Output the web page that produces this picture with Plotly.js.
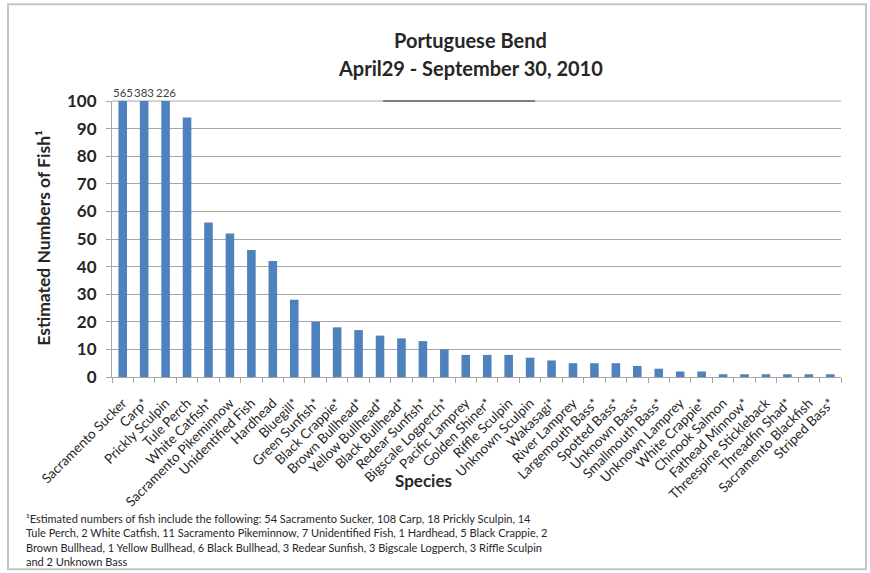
<!DOCTYPE html>
<html>
<head>
<meta charset="utf-8">
<script src="https://cdn.plot.ly/plotly-3.0.1.min.js"></script>
<style>
  html, body { margin: 0; padding: 0; background: #ffffff; }
  #chart { width: 870px; height: 573px; }
</style>
</head>
<body>
<div id="chart"></div>
<script>
const species = [
  "Sacramento Sucker", "Carp*", "Prickly Sculpin", "Tule Perch", "White Catfish*",
  "Sacramento Pikeminnow", "Unidentified Fish", "Hardhead", "Bluegill*", "Green Sunfish*",
  "Black Crappie*", "Brown Bullhead*", "Yellow Bullhead*", "Black Bullhead*", "Redear Sunfish*",
  "Bigscale Logperch*", "Pacific Lamprey", "Golden Shiner*", "Riffle Sculpin", "Unknown Sculpin",
  "Wakasagi*", "River Lamprey", "Largemouth Bass*", "Spotted Bass*", "Unknown Bass*",
  "Smallmouth Bass*", "Unknown Lamprey", "White Crappie*", "Chinook Salmon", "Fathead Minnow*",
  "Threespine Stickleback", "Threadfin Shad*", "Sacramento Blackfish", "Striped Bass*"
];
const counts = [
  565, 383, 226, 94, 56,
  52, 46, 42, 28, 20,
  18, 17, 15, 14, 13,
  10, 8, 8, 8, 7,
  6, 5, 5, 5, 4,
  3, 2, 2, 1, 1,
  1, 1, 1, 1
];
const yMax = 100;
const titleLine1 = "Portuguese Bend";
const titleLine2 = "April29 - September 30, 2010";
const xTitle = "Species";
const yTitle = "Estimated Numbers of Fish¹";
const footnoteLines = [
  "¹Estimated numbers of fish include the following: 54 Sacramento Sucker, 108 Carp, 18 Prickly Sculpin, 14",
  "Tule Perch, 2 White Catfish, 11 Sacramento Pikeminnow, 7 Unidentified Fish, 1 Hardhead, 5 Black Crappie, 2",
  "Brown Bullhead, 1 Yellow Bullhead, 6 Black Bullhead, 3 Redear Sunfish, 3 Bigscale Logperch, 3 Riffle Sculpin",
  "and 2 Unknown Bass"
];

// layout geometry (pixels)
const W = 870, H = 573;
const L = 112, R = 841, T = 101, B = 377.5;
const px = x => (x - L) / (R - L);
const py = y => (B - y) / (B - T);

const FONT = "Lato, Carlito, 'Open Sans', sans-serif";
const barColor = "#4F81BD";
const gridColor = "#a6a6a6";
const catRange = [-0.5, species.length - 0.5];

const trace = {
  type: "bar",
  x: species,
  y: counts,
  marker: { color: barColor },
  hoverinfo: "x+y"
};
// invisible companion trace that carries the (lowered) category labels
const labelTrace = {
  type: "scatter",
  mode: "markers",
  x: species,
  y: counts,
  xaxis: "x2",
  marker: { opacity: 0 },
  hoverinfo: "skip"
};

// labels for bars that exceed the axis range
const overflowAnnotations = species
  .map((s, i) => ({ s, v: counts[i] }))
  .filter(d => d.v > yMax)
  .map(d => ({
    x: d.s, y: yMax, xref: "x", yref: "y",
    text: String(d.v), showarrow: false,
    yanchor: "bottom", yshift: 0,
    font: { family: FONT, size: 11.5, color: "#404040" }
  }));

const layout = {
  width: W, height: H,
  margin: { l: L, r: W - R, t: T, b: H - B, pad: 0 },
  paper_bgcolor: "#ffffff",
  plot_bgcolor: "#ffffff",
  showlegend: false,
  bargap: 0.6,
  font: { family: FONT, color: "#262626" },
  xaxis: {
    type: "category",
    categoryorder: "array",
    categoryarray: species,
    range: catRange,
    showticklabels: false,
    showgrid: false,
    showline: true,
    linecolor: gridColor,
    linewidth: 1,
    ticks: "outside",
    tickson: "boundaries",
    ticklen: 5,
    tickcolor: gridColor,
    automargin: false
  },
  xaxis2: {
    type: "category",
    categoryorder: "array",
    categoryarray: species,
    range: catRange,
    overlaying: "x",
    side: "bottom",
    anchor: "y",
    tickangle: -45,
    tickfont: { family: FONT, size: 13.5, color: "#262626" },
    ticks: "outside",
    ticklen: 12,
    tickcolor: "rgba(0,0,0,0)",
    showgrid: false,
    showline: false,
    zeroline: false,
    automargin: false
  },
  yaxis: {
    range: [0, yMax],
    dtick: 10,
    tickfont: { family: FONT, size: 17, color: "#262626", weight: "bold" },
    ticklabelstandoff: 6,
    showgrid: true,
    gridcolor: gridColor,
    gridwidth: 1,
    zeroline: false,
    showline: true,
    linecolor: gridColor,
    linewidth: 1,
    ticks: "outside",
    ticklen: 5,
    tickcolor: gridColor,
    automargin: false,
    fixedrange: true
  },
  annotations: [
    {
      xref: "paper", yref: "paper", x: px(470), y: py(40),
      text: "<b>" + titleLine1 + "</b>", showarrow: false,
      xanchor: "center", yanchor: "middle",
      font: { family: FONT, size: 20, color: "#262626" }
    },
    {
      xref: "paper", yref: "paper", x: px(470), y: py(68),
      text: "<b>" + titleLine2 + "</b>", showarrow: false,
      xanchor: "center", yanchor: "middle",
      font: { family: FONT, size: 20, color: "#262626" }
    },
    {
      xref: "paper", yref: "paper", x: px(44), y: py(238),
      text: "<b>" + yTitle + "</b>", showarrow: false, textangle: -90,
      xanchor: "center", yanchor: "middle",
      font: { family: FONT, size: 17.5, color: "#262626" }
    },
    {
      xref: "paper", yref: "paper", x: px(423), y: py(481),
      text: "<b>" + xTitle + "</b>", showarrow: false,
      xanchor: "center", yanchor: "middle",
      font: { family: FONT, size: 17, color: "#262626" }
    },
    {
      xref: "paper", yref: "paper", x: px(24), y: py(511),
      text: footnoteLines.join("<br>"), showarrow: false, align: "left",
      xanchor: "left", yanchor: "top",
      font: { family: FONT, size: 11, color: "#262626" }
    }
  ].concat(overflowAnnotations),
  shapes: [
    {
      type: "rect", xref: "paper", yref: "paper",
      x0: px(8), x1: px(866), y0: py(570), y1: py(4),
      line: { color: "#c4c4c4", width: 2 }, fillcolor: "rgba(0,0,0,0)", layer: "below"
    },
    {
      type: "line", xref: "paper", yref: "paper",
      x0: 0, x1: 1, y0: 1, y1: 1,
      line: { color: gridColor, width: 1 }, layer: "below"
    },
    {
      type: "line", xref: "paper", yref: "paper",
      x0: px(383), x1: px(535), y0: 1, y1: 1,
      line: { color: "#7f7f7f", width: 2 }
    }
  ]
};

Plotly.newPlot("chart", [trace, labelTrace], layout, { displayModeBar: false, staticPlot: true });
</script>
</body>
</html>
